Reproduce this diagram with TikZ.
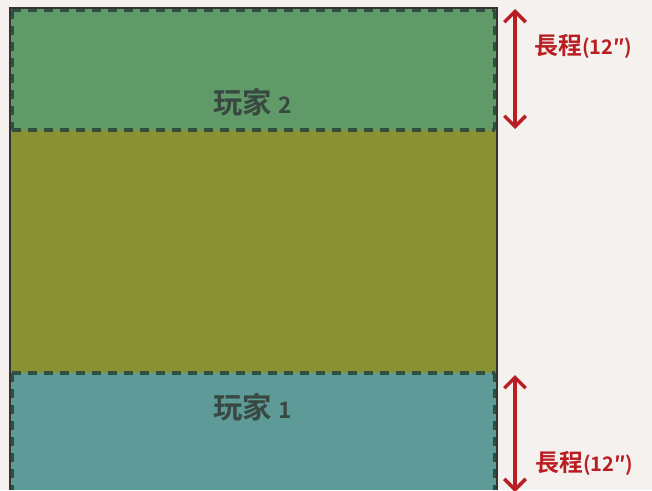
\documentclass[tikz,border=0pt]{standalone}
\usepackage{fontspec}
\newfontfamily\cjk{Noto Sans CJK TC}[BoldFont={Noto Sans CJK TC Bold}]
\usetikzlibrary{arrows.meta}
\definecolor{bgpaper}{HTML}{F5F1EE}
\definecolor{zonegreen}{HTML}{5F9A68}
\definecolor{zoneolive}{HTML}{8A9132}
\definecolor{zoneteal}{HTML}{5E9A98}
\definecolor{dashdark}{HTML}{30503F}
\definecolor{labelgrey}{HTML}{3A4842}
\definecolor{rangered}{HTML}{B81E22}
\tikzset{
  zoneedge/.style={dashdark, line width=3pt, dash pattern=on 7pt off 5pt},
  zonelabel/.style={text=labelgrey, font=\cjk\bfseries\fontsize{22}{24}\selectfont, inner sep=0pt},
  rangearrow/.style={rangered, line width=2.6pt, {Straight Barb[length=8pt,width=16pt]}-{Straight Barb[length=8pt,width=16pt]}},
  rangelabel/.style={text=rangered, font=\cjk\bfseries\fontsize{18}{20}\selectfont, inner sep=0pt, anchor=west}
}
\begin{document}
\begin{tikzpicture}[x=0.75pt,y=-0.75pt]
\useasboundingbox (0,0) rectangle (652,490);
\fill[bgpaper] (0,0) rectangle (652,490);
% zones
\fill[zonegreen] (10,8) rectangle (497,130);
\fill[zoneolive] (10,130) rectangle (497,373);
\fill[zoneteal] (10,373) rectangle (497,490);
% dashed zone borders
\draw[zoneedge] (12,10) -- (495,10);
\draw[zoneedge] (12,10) -- (12,130);
\draw[zoneedge] (495,10) -- (495,130);
\draw[zoneedge] (12,130) -- (495,130);
\draw[zoneedge] (12,373) -- (495,373);
\draw[zoneedge] (12,373) -- (12,490);
\draw[zoneedge] (495,373) -- (495,490);
% board outline
\draw[black!80, line width=0.8pt] (10,490) -- (10,8) -- (497,8) -- (497,490);
% labels
\node[zonelabel] (p2) at (253,102) {玩家 {\fontsize{17}{19}\selectfont 2}};
\node[zonelabel] (p1) at (253,407) {玩家 {\fontsize{17}{19}\selectfont 1}};
% range arrows
\coordinate (a2t) at (515,9);
\coordinate (a2b) at (515,129);
\coordinate (a1t) at (515,375);
\coordinate (a1b) at (515,492);
\draw[rangearrow] (a2t) -- (a2b);
\draw[rangearrow] (a1t) -- (a1b);
\node[rangelabel] (r2) at (534,46) {長程{\fontsize{15}{17}\selectfont (12″)}};
\node[rangelabel] (r1) at (535,463) {長程{\fontsize{15}{17}\selectfont (12″)}};
\end{tikzpicture}
\end{document}
